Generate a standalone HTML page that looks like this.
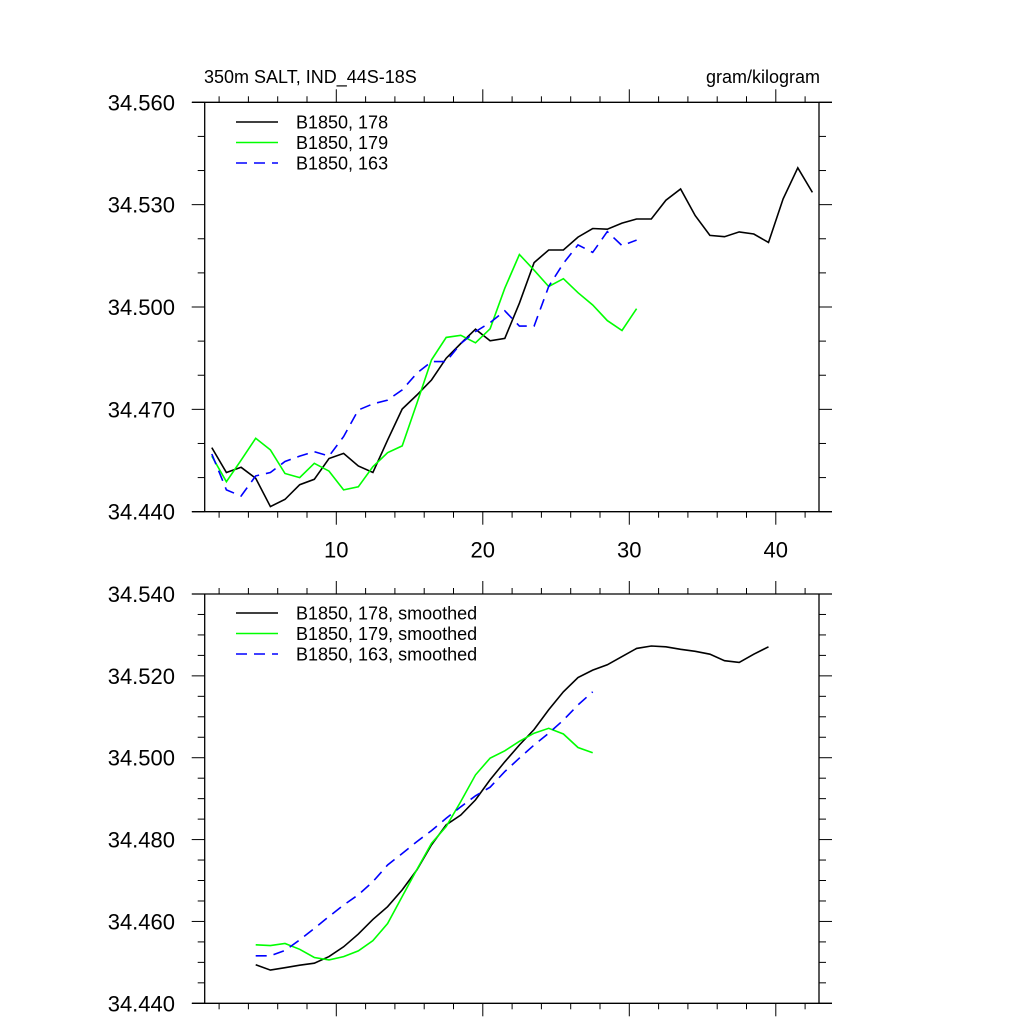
<!DOCTYPE html>
<html><head><meta charset="utf-8"><style>
html,body{margin:0;padding:0;background:#fff}
svg{display:block;font-family:"Liberation Sans",sans-serif}
</style></head><body>
<svg id="chart" width="1024" height="1024" viewBox="0 0 1024 1024" xmlns="http://www.w3.org/2000/svg">
<text x="204" y="83" font-size="18">350m SALT, IND_44S-18S</text>
<text x="820" y="83" font-size="18" text-anchor="end">gram/kilogram</text>
</svg>
<script>
const topX178Start = 1.5;
const topX179Start = 1.5;
const topX163Start = 1.5;
const top178 = [34.4588,34.4515,34.4530,34.4498,34.4415,34.4436,34.4479,34.4495,34.4556,34.4571,34.4534,34.4515,34.4610,34.4701,34.4742,34.4786,34.4850,34.4893,34.4935,34.4901,34.4908,34.5011,34.5130,34.5167,34.5167,34.5205,34.5230,34.5228,34.5246,34.5258,34.5258,34.5313,34.5346,34.5268,34.5210,34.5206,34.5220,34.5214,34.5189,34.5317,34.5408,34.5336];
const top179 = [34.4563,34.4488,34.4551,34.4615,34.4581,34.4512,34.4500,34.4542,34.4519,34.4464,34.4473,34.4532,34.4573,34.4593,34.4718,34.4845,34.4911,34.4917,34.4895,34.4936,34.5055,34.5154,34.5108,34.5060,34.5083,34.5042,34.5006,34.4960,34.4931,34.4995];
const top163 = [34.4569,34.4464,34.4446,34.4505,34.4515,34.4547,34.4563,34.4576,34.4563,34.4620,34.4698,34.4716,34.4727,34.4757,34.4806,34.4840,34.4840,34.4893,34.4928,34.4954,34.4989,34.4944,34.4944,34.5060,34.5128,34.5182,34.5160,34.5221,34.5180,34.5196];
const botXStart = 4.5;
const bot178 = [34.4494,34.4481,34.4487,34.4493,34.4498,34.4514,34.4538,34.4569,34.4605,34.4636,34.4677,34.4726,34.4787,34.4836,34.4860,34.4897,34.4946,34.4990,34.5031,34.5069,34.5117,34.5161,34.5196,34.5214,34.5227,34.5247,34.5267,34.5273,34.5271,34.5265,34.5260,34.5253,34.5237,34.5233,34.5253,34.5271];
const bot179 = [34.4543,34.4541,34.4546,34.4532,34.4512,34.4506,34.4514,34.4528,34.4553,34.4595,34.4661,34.4727,34.4791,34.4832,34.4893,34.4958,34.4999,34.5017,34.5040,34.5060,34.5072,34.5058,34.5025,34.5012];
const bot163 = [34.4516,34.4516,34.4529,34.4555,34.4583,34.4612,34.4640,34.4665,34.4697,34.4738,34.4766,34.4795,34.4822,34.4852,34.4880,34.4907,34.4928,34.4966,34.4999,34.5031,34.5060,34.5092,34.5129,34.5161];
const xTickLabels = ["10","20","30","40"];
const topYTickLabels = ["34.440","34.470","34.500","34.530","34.560"];
const botYTickLabels = ["34.440","34.460","34.480","34.500","34.520","34.540"];
const topLegend = ["B1850, 178","B1850, 179","B1850, 163"];
const botLegend = ["B1850, 178, smoothed","B1850, 179, smoothed","B1850, 163, smoothed"];

const NS="http://www.w3.org/2000/svg";
const svg=document.getElementById('chart');
function mk(tag,attrs,parent){const e=document.createElementNS(NS,tag);for(const k in attrs)e.setAttribute(k,attrs[k]);(parent||svg).appendChild(e);return e;}
const xScale=v=>336.3+(v-10)*14.65;
const X0=192,XL=204.7,XR=819,XE=832;

function panel(name,yTop,yBot,yMin,yMax,yMajor,yMinor,yLabels,showXLabels,series,legend,legY){
  const g=mk('g',{});
  
  
  const yS=v=>yBot-(v-yMin)/(yMax-yMin)*(yBot-yTop);
  const ax={stroke:'#000','stroke-width':1.3,fill:'none'};
  let l=mk('line',Object.assign({x1:X0,x2:XE,y1:yTop,y2:yTop},ax),g);
  
  
  l=mk('line',Object.assign({x1:X0,x2:XE,y1:yBot,y2:yBot},ax),g);
  
  
  l=mk('line',Object.assign({x1:XL,x2:XL,y1:yTop,y2:yBot},ax),g);
  
  
  l=mk('line',Object.assign({x1:XR,x2:XR,y1:yTop,y2:yBot},ax),g);
  
  
  for(let v=2;v<=42;v+=2){
    const x=xScale(v);const major=v%10===0;
    const len=major?13:6;
    mk('line',{x1:x,x2:x,y1:yTop,y2:yTop-len,stroke:'#000','stroke-width':1},g);
    mk('line',{x1:x,x2:x,y1:yBot,y2:yBot+len,stroke:'#000','stroke-width':1},g);
  }
  if(showXLabels){
    xTickLabels.forEach(s=>{
      const t=mk('text',{x:xScale(+s),y:yBot+46,'font-size':22,'text-anchor':'middle'},g);
      t.textContent=s;
      
      
    });
  }
  const n=Math.round((yMax-yMin)/yMinor);
  for(let i=0;i<=n;i++){
    const v=yMin+i*yMinor;const y=yS(v);
    const major=Math.abs(((v-yMin)/yMajor)-Math.round((v-yMin)/yMajor))<1e-6;
    const len=major?13:7;
    mk('line',{x1:XL,x2:XL-len,y1:y,y2:y,stroke:'#000','stroke-width':1},g);
    mk('line',{x1:XR,x2:XR+len,y1:y,y2:y,stroke:'#000','stroke-width':1},g);
  }
  yLabels.forEach(s=>{
    const t=mk('text',{x:175,y:yS(+s)+8,'font-size':22,'text-anchor':'end'},g);
    t.textContent=s;
    
    
  });
  series.forEach((s,si)=>{
    const pts=s.data.map((v,i)=>xScale(s.start+i).toFixed(1)+','+yS(v).toFixed(1)).join(' ');
    const p=mk('polyline',{points:pts,fill:'none',stroke:s.color,'stroke-width':1.6,'stroke-linejoin':'miter'},g);
    if(s.dash)p.setAttribute('stroke-dasharray','11,7');
    
    
    const ly=legY+si*20.5;
    const ll=mk('line',{x1:236,x2:278,y1:ly,y2:ly,stroke:s.color,'stroke-width':1.6},g);
    if(s.dash)ll.setAttribute('stroke-dasharray','11,7');
    
    
    const t=mk('text',{x:296,y:ly+6.5,'font-size':18},g);
    t.textContent=legend[si];
    
    
  });
}
panel('top-panel',102.3,511.7,34.44,34.56,0.03,0.01,topYTickLabels,true,[
  {id:'178',data:top178,start:topX178Start,color:'#000'},
  {id:'179',data:top179,start:topX179Start,color:'#00ff00'},
  {id:'163',data:top163,start:topX163Start,color:'#0000ff',dash:true}],topLegend,122);
panel('bottom-panel',594,1003.3,34.44,34.54,0.02,0.005,botYTickLabels,false,[
  {id:'178-smoothed',data:bot178,start:botXStart,color:'#000'},
  {id:'179-smoothed',data:bot179,start:botXStart,color:'#00ff00'},
  {id:'163-smoothed',data:bot163,start:botXStart,color:'#0000ff',dash:true}],botLegend,613);
</script>
</body></html>
